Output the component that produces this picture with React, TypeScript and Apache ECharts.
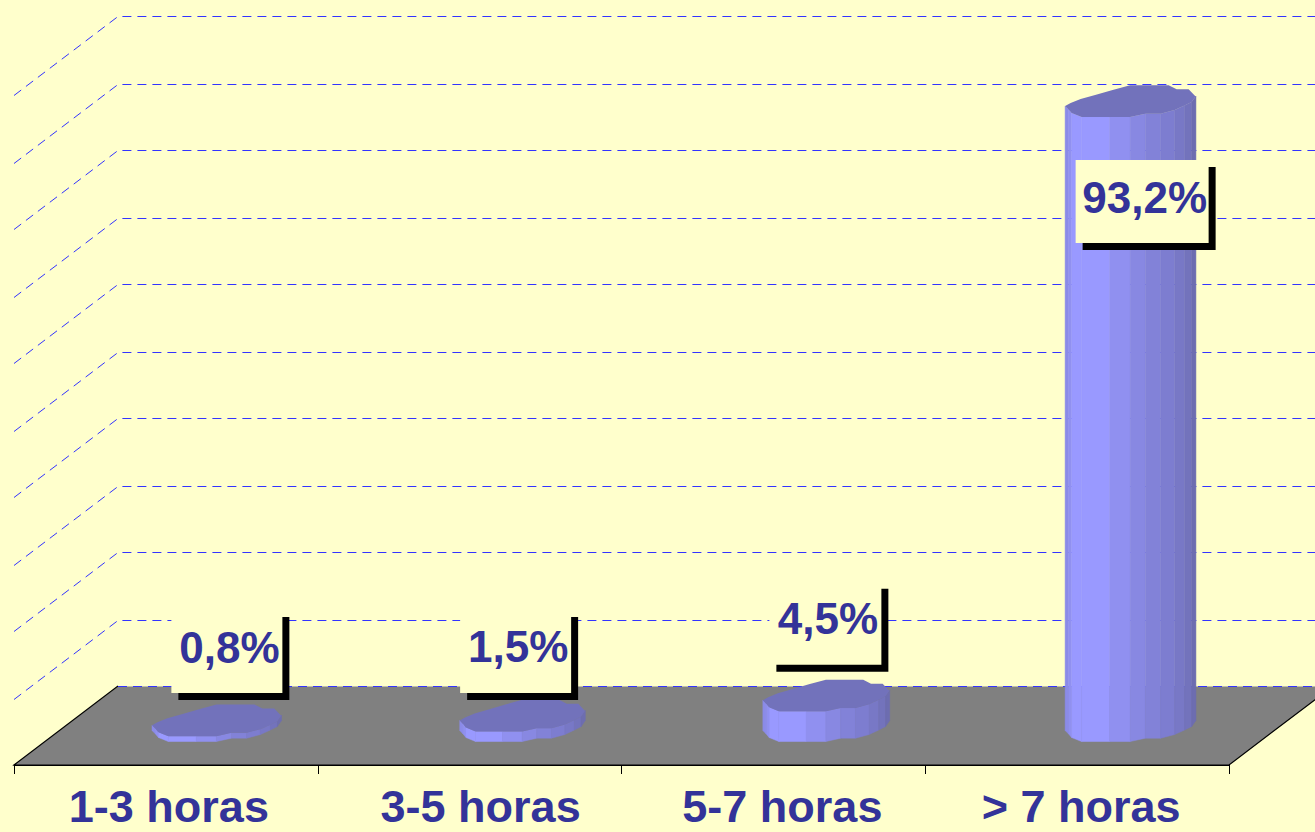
import React, { useEffect, useRef } from "react";
import * as echarts from "echarts";

const categories = ["1-3 horas", "3-5 horas", "5-7 horas", "> 7 horas"];
const values = [0.8, 1.5, 4.5, 93.2];
const valueLabels = ["0,8%", "1,5%", "4,5%", "93,2%"];
const gridValues = [0, 10, 20, 30, 40, 50, 60, 70, 80, 90, 100];

// layout of the pseudo-3D projection and of the label boxes
const DEPTH_X = 104;
const DEPTH_Y = 79;
const barDx = [-1, 1, 1, 1.5];
const barScale = [0.99, 0.96, 0.97, 1];
const labelDx = [10, -7, -1, 11.5];
const labelDy = [-68.6, -64, -72, 100.5];
const labelBoxW = [111, 111, 112, 133];
const LABEL_BOX_H = 83;
const SHADOW = 7;
const axisLabelPad = [6, 22, 18, 8];

const BG = "#FFFFCC";
const TEXT = "#333399";
const GRID = "#3333FF";
const FLOOR = "#808080";
const TOP_FILL = "#7272BB";

// outline of one projected disc, relative to its centre
const discFront: number[][] = [
  [-65.5, 5], [-62, 8.5], [-59, 12], [-49, 16], [-21, 16], [-0.5, 16], [14.7, 12.7],
  [30, 12.7], [44, 9], [54, 4.5], [61, 1], [65.3, -5],
];
const discBack: number[][] = [
  [64.5, -5], [58, -11.7], [46, -11.7], [38, -15.7], [-0.5, -15.7], [-18, -11], [-35.5, -6],
  [-50, -2], [-60, 2],
];
const facetColors = [
  "#8B8BE8", "#9090F0", "#9999FF", "#9999FF", "#9090F0", "#8888E2",
  "#8282D8", "#7D7DD0", "#7878C6", "#7373BC", "#6D6DB0",
];

const FONT = 'bold 44px "Liberation Sans", Arial, sans-serif';

export default function App() {
  const ref = useRef<HTMLDivElement>(null);
  useEffect(() => {
    document.body.style.margin = "0";
    const chart = echarts.init(ref.current!, null, { renderer: "svg" });
    const rich: Record<string, any> = {};
    axisLabelPad.forEach((p, i) => {
      rich["c" + i] = {
        fontFamily: '"Liberation Sans", Arial, sans-serif',
        fontWeight: "bold",
        fontSize: 45,
        lineHeight: 40,
        color: TEXT,
        padding: [0, 0, 0, p],
      };
    });
    chart.setOption({
      animation: false,
      backgroundColor: BG,
      grid: { left: 14, top: 95, width: 1215, height: 670 },
      xAxis: {
        type: "category",
        data: categories,
        z: 5,
        axisLine: { lineStyle: { color: "#000", width: 1 } },
        axisTick: { show: true, length: 9, lineStyle: { color: "#000", width: 1 } },
        axisLabel: {
          margin: 21,
          interval: 0,
          formatter: (v: string, i: number) => `{c${i}|${v}}`,
          rich,
        },
      },
      yAxis: { type: "value", min: 0, max: 100, interval: 10, show: false },
      series: [
        {
          type: "custom",
          silent: true,
          z: 1,
          data: [0],
          renderItem: (params: any, api: any) => {
            const y0 = api.coord([0, 0])[1];
            const left = params.coordSys.x;
            const right = left + params.coordSys.width;
            return {
              type: "group",
              children: [
                {
                  type: "polygon",
                  shape: {
                    points: [
                      [left, y0],
                      [left + DEPTH_X, y0 - DEPTH_Y + 0.5],
                      [right + DEPTH_X, y0 - DEPTH_Y + 0.5],
                      [right, y0],
                    ],
                  },
                  style: { fill: FLOOR },
                },
                {
                  type: "polyline",
                  shape: {
                    points: [
                      [left + DEPTH_X, y0 - DEPTH_Y],
                      [left, y0],
                      [right, y0],
                      [right + DEPTH_X, y0 - DEPTH_Y],
                    ],
                  },
                  style: { fill: "none", stroke: "#000", lineWidth: 1.2 },
                },
              ],
            };
          },
        },
        {
          type: "custom",
          silent: true,
          z: 2,
          data: gridValues,
          encode: { y: 0 },
          renderItem: (params: any, api: any) => {
            const v = api.value(0);
            // the reference's raster puts these rules on even pixel rows
            const y = Math.ceil((api.coord([0, v])[1] - DEPTH_Y) / 2) * 2 + DEPTH_Y;
            const left = params.coordSys.x;
            const points =
              v === 0
                ? [
                    [left + DEPTH_X, y - DEPTH_Y + 0.5],
                    [1340, y - DEPTH_Y + 0.5],
                  ]
                : [
                    [left, y + 0.5],
                    [left + DEPTH_X, y - DEPTH_Y + 0.5],
                    [1340, y - DEPTH_Y + 0.5],
                  ];
            return {
              type: "polyline",
              shape: { points },
              style: { fill: "none", stroke: GRID, lineWidth: 1, lineDash: [9, 6] },
            };
          },
        },
        {
          type: "custom",
          silent: true,
          z: 3,
          data: values.map((v, i) => [i, v]),
          renderItem: (_params: any, api: any) => {
            const i = api.value(0);
            const v = api.value(1);
            const s = barScale[i];
            const cx = api.coord([i, 0])[0] + DEPTH_X / 2 + barDx[i];
            const by = api.coord([i, 0])[1] - DEPTH_Y / 2;
            const ty = api.coord([i, v])[1] - DEPTH_Y / 2;
            const children: any[] = [];
            for (let k = 0; k < discFront.length - 1; k++) {
              const a = discFront[k];
              const b = discFront[k + 1];
              children.push({
                type: "polygon",
                shape: {
                  points: [
                    [cx + a[0] * s, ty + a[1]],
                    [cx + b[0] * s, ty + b[1]],
                    [cx + b[0] * s, by + b[1]],
                    [cx + a[0] * s, by + a[1]],
                  ],
                },
                style: { fill: facetColors[k], stroke: facetColors[k], lineWidth: 0.5 },
              });
            }
            children.push({
              type: "polygon",
              shape: {
                points: [...discFront, ...discBack].map((p) => [cx + p[0] * s, ty + p[1]]),
              },
              style: { fill: TOP_FILL },
            });
            return { type: "group", children };
          },
        },
        {
          type: "custom",
          silent: true,
          z: 4,
          data: values.map((v, i) => [i, v]),
          renderItem: (_params: any, api: any) => {
            const i = api.value(0);
            const v = api.value(1);
            const cx = api.coord([i, 0])[0] + DEPTH_X / 2 + barDx[i] + labelDx[i];
            const cy = api.coord([i, v])[1] - DEPTH_Y / 2 + labelDy[i];
            const w = labelBoxW[i];
            const h = LABEL_BOX_H;
            return {
              type: "group",
              children: [
                {
                  type: "rect",
                  shape: { x: cx - w / 2 + SHADOW, y: cy - h / 2 + SHADOW, width: w, height: h },
                  style: { fill: "#000" },
                },
                {
                  type: "rect",
                  shape: { x: cx - w / 2, y: cy - h / 2, width: w, height: h },
                  style: { fill: BG },
                },
                {
                  type: "text",
                  x: cx + 2.5,
                  y: cy - 4.5,
                  style: {
                    text: valueLabels[i],
                    font: FONT,
                    fill: TEXT,
                    align: "center",
                    verticalAlign: "middle",
                  },
                },
              ],
            };
          },
        },
      ],
    });
    return () => chart.dispose();
  }, []);
  return (
    <div
      ref={ref}
      style={{ position: "absolute", left: 0, top: 0, width: 1315, height: 832, overflow: "hidden" }}
    />
  );
}
